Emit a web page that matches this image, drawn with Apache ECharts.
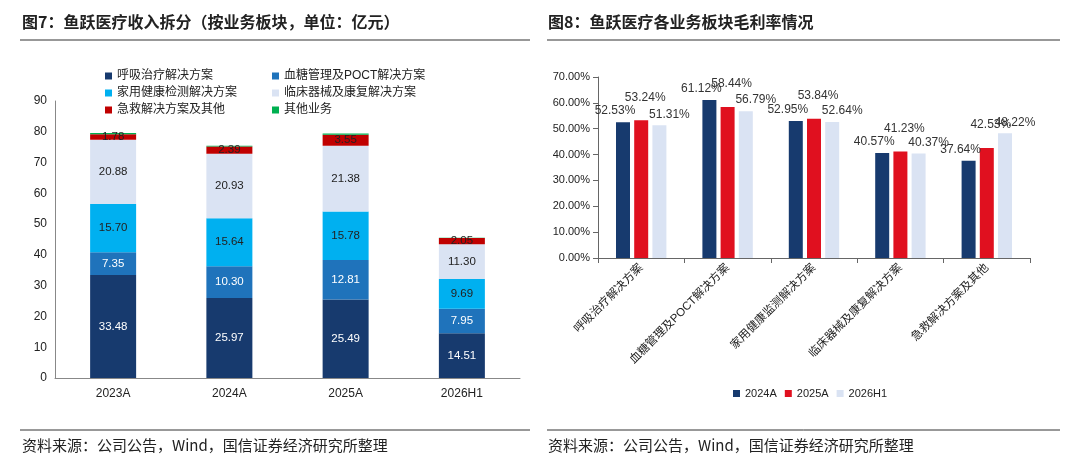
<!DOCTYPE html><html><head><meta charset="utf-8"><script src="https://cdn.jsdelivr.net/npm/echarts@6/dist/echarts.min.js"></script></head><body style="margin:0"><div id="c" style="width:1080px;height:468px"></div><script>
const years=['2023A','2024A','2025A','2026H1'];
const names1=['呼吸治疗解决方案','血糖管理及POCT解决方案','家用健康检测解决方案','临床器械及康复解决方案','急救解决方案及其他','其他业务'];
const resp=[33.48,25.97,25.49,14.51];
const gluc=[7.35,10.30,12.81,7.95];
const home=[15.70,15.64,15.78,9.69];
const clin=[20.88,20.93,21.38,11.30];
const emer=[1.78,2.39,3.55,2.05];
const other=[0.4,0.2,0.4,0.1];
const cats2=['呼吸治疗解决方案','血糖管理及POCT解决方案','家用健康监测解决方案','临床器械及康复解决方案','急救解决方案及其他'];
const m24=[52.53,61.12,52.95,40.57,37.64];
const m25=[53.24,58.44,53.84,41.23,42.53];
const m26=[51.31,56.79,52.64,40.37,48.22];
const c1=['#173a6e','#1f73bb','#00b0f0','#dae3f3','#c00000','#00b050'];
const c2=['#173a6e','#e0101f','#dae3f3'];
const F='Liberation Sans, Noto Sans CJK SC, sans-serif';
const ch=echarts.init(document.getElementById('c'));
const d1=[resp,gluc,home,clin,emer,other];
const legPos=[[105,70],[272,70],[105,87],[272,87],[105,104],[272,104]];
const series=d1.map((d,i)=>({name:names1[i],type:'bar',stack:'a',xAxisIndex:0,yAxisIndex:0,barWidth:46,data:d,itemStyle:{color:c1[i]},
 label:{show:i<5,position:'inside',color:i<2?'#fff':'#222',fontSize:11.5,fontFamily:F,formatter:p=>p.value.toFixed(2)}}));
const offs=[[-8,0],[4,-12],[10,0]];
[m24,m25,m26].forEach((d,i)=>series.push({name:['2024A','2025A','2026H1'][i],type:'bar',xAxisIndex:1,yAxisIndex:1,barWidth:14,barGap:'30%',data:d,itemStyle:{color:c2[i]},
 label:{show:true,position:'top',offset:offs[i],color:'#333',fontSize:12,fontFamily:F,formatter:p=>p.value.toFixed(2)+'%'}}));
const legends=names1.map((n,i)=>({data:[n],left:legPos[i][0],top:legPos[i][1],itemWidth:7,itemHeight:7,icon:'rect',padding:0,textStyle:{fontSize:12,fontFamily:F,color:'#222'}}));
legends.push({data:['2024A','2025A','2026H1'],left:728,top:383,itemWidth:7,itemHeight:7,icon:'rect',itemGap:8,textStyle:{fontSize:11,fontFamily:F,color:'#222'}});
const line=(x1,x2,y,w)=>({type:'line',shape:{x1:x1,y1:y,x2:x2,y2:y},style:{stroke:'#333',lineWidth:w}});
ch.setOption({animation:false,textStyle:{fontFamily:F},
 legend:legends,
 grid:[{left:55,top:101,width:465,height:277},{left:598,top:77,width:432,height:181}],
 xAxis:[{type:'category',gridIndex:0,data:years,axisTick:{show:false},axisLine:{lineStyle:{color:'#888'}},axisLabel:{color:'#222',fontSize:12,margin:10}},
  {type:'category',gridIndex:1,data:cats2,axisTick:{show:true,alignWithLabel:false,lineStyle:{color:'#666'}},axisLine:{lineStyle:{color:'#666'}},axisLabel:{color:'#222',fontSize:11.5,rotate:45,margin:8,interval:0}}],
 yAxis:[{type:'value',gridIndex:0,min:0,max:90,interval:10,splitLine:{show:false},axisLine:{show:true,lineStyle:{color:'#888'}},axisLabel:{color:'#222',fontSize:12}},
  {type:'value',gridIndex:1,min:0,max:70,interval:10,splitLine:{show:false},axisLine:{show:true,lineStyle:{color:'#666'}},axisTick:{show:true},axisLabel:{color:'#222',fontSize:11,formatter:v=>v.toFixed(2)+'%'}}],
 series:series,
 graphic:[
  {type:'text',left:22,top:14,style:{text:'图7：鱼跃医疗收入拆分（按业务板块，单位：亿元）',font:'bold 16px Noto Sans CJK SC',fill:'#222'}},
  {type:'text',left:548,top:14,style:{text:'图8：鱼跃医疗各业务板块毛利率情况',font:'bold 16px Noto Sans CJK SC',fill:'#222'}},
  line(20,530,40,1.2),line(547,1060,40,1.2),line(20,530,430,1),line(547,1060,430,1),
  {type:'text',left:22,top:438,style:{text:'资料来源：公司公告，Wind，国信证券经济研究所整理',font:'15px Noto Sans CJK SC',fill:'#222'}},
  {type:'text',left:548,top:438,style:{text:'资料来源：公司公告，Wind，国信证券经济研究所整理',font:'15px Noto Sans CJK SC',fill:'#222'}}
 ]});
</script></body></html>
